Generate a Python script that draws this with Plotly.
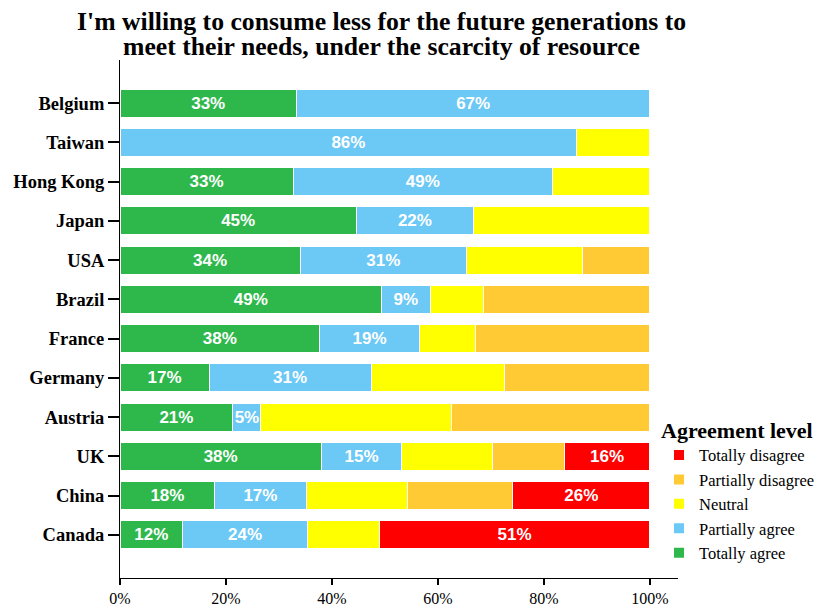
import plotly.graph_objects as go

countries = ["Canada", "China", "UK", "Austria", "Germany", "France", "Brazil",
             "USA", "Japan", "Hong Kong", "Taiwan", "Belgium"]
totally_agree =     [11.8, 17.9, 38.0, 21.3, 16.8, 37.7, 49.4, 34.0, 44.6, 32.7, 0.0, 33.3]
partially_agree =   [23.6, 17.2, 15.2, 5.3, 30.6, 18.8, 9.1, 31.4, 22.1, 48.9, 86.2, 66.7]
neutral =           [13.5, 19.2, 17.1, 36.0, 25.1, 10.5, 10.1, 21.9, 33.3, 18.4, 13.8, 0.0]
partially_disagree = [0.0, 19.8, 13.5, 37.4, 27.5, 33.0, 31.4, 12.7, 0.0, 0.0, 0.0, 0.0]
totally_disagree =  [51.1, 25.9, 16.2, 0.0, 0.0, 0.0, 0.0, 0.0, 0.0, 0.0, 0.0, 0.0]
x_ticks = [0, 20, 40, 60, 80, 100]
x_tick_labels = ["0%", "20%", "40%", "60%", "80%", "100%"]
title_lines = ["I'm willing to consume less for the future generations to",
               "meet their needs, under the scarcity of resource"]

series = [
    ("Totally agree", totally_agree, "#2EB84B", True),
    ("Partially agree", partially_agree, "#6CC8F5", True),
    ("Neutral", neutral, "#FFFF00", False),
    ("Partially disagree", partially_disagree, "#FFCA33", False),
    ("Totally disagree", totally_disagree, "#FF0000", True),
]

fig = go.Figure()
for name, vals, color, labelled in series:
    text = [f"{round(v)}%" if (labelled and v > 0) else "" for v in vals]
    fig.add_trace(go.Bar(
        y=countries, x=vals, name=name, orientation="h",
        marker=dict(color=color, line=dict(color="white", width=1)),
        text=text, textposition="inside", insidetextanchor="middle",
        textangle=0, constraintext="none", hoverinfo="x+y+name",
        textfont=dict(family="Liberation Sans", size=17, color="white", weight="bold"),
    ))

title_font = dict(family="Liberation Serif", size=25.7, color="black", weight="bold")
fig.add_annotation(text=title_lines[0], xref="paper", yref="paper",
                   x=0.4695, y=1.075, xanchor="center", yanchor="middle",
                   showarrow=False, font=title_font)
fig.add_annotation(text=title_lines[1], xref="paper", yref="paper",
                   x=0.4695, y=1.027, xanchor="center", yanchor="middle",
                   showarrow=False, font=title_font)

fig.update_layout(
    barmode="stack",
    bargap=0.29,
    width=831, height=600,
    margin=dict(l=112, r=161, t=52, b=30, autoexpand=False),
    plot_bgcolor="white", paper_bgcolor="white",
    legend=dict(
        title=dict(text="Agreement level",
                   font=dict(family="Liberation Serif", size=22, color="black", weight="bold")),
        traceorder="reversed",
        font=dict(family="Liberation Serif", size=16.5, color="black"),
        x=0.966, xanchor="left", y=0.326, yanchor="top",
        itemsizing="constant", tracegroupgap=0,
        bgcolor="rgba(0,0,0,0)",
    ),
    xaxis=dict(
        range=[0, 105.3], tickvals=x_ticks, ticktext=x_tick_labels,
        showgrid=False, zeroline=False, automargin=False,
        showline=True, linecolor="black", linewidth=1,
        ticks="outside", ticklen=6, tickcolor="black", tickwidth=2,
        tickfont=dict(family="Liberation Serif", size=16, color="black"),
    ),
    yaxis=dict(
        categoryorder="array", categoryarray=countries,
        range=[-1.1, 12.1], automargin=False,
        showgrid=False, zeroline=False,
        showline=True, linecolor="black", linewidth=1,
        ticks="outside", ticklen=11, tickcolor="black", tickwidth=2,
        tickfont=dict(family="Liberation Serif", size=18.5, color="black", weight="bold"),
    ),
)

fig.write_html("out.html")
